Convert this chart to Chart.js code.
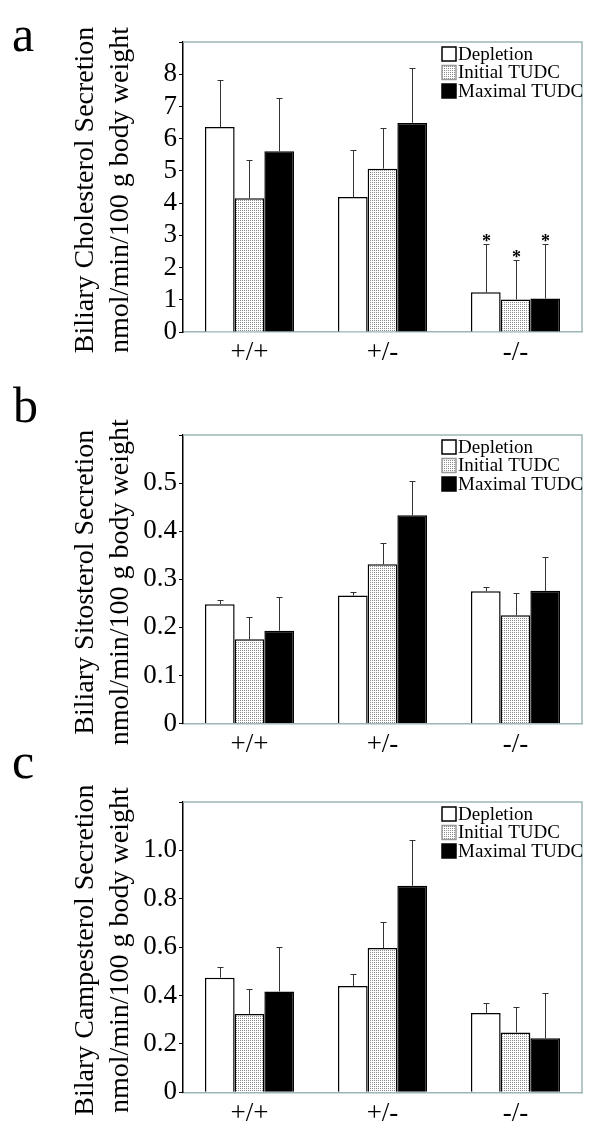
<!DOCTYPE html>
<html>
<head>
<meta charset="utf-8">
<script src="https://cdn.jsdelivr.net/npm/chart.js@4.4.0/dist/chart.umd.min.js"></script>
<style>
  body { margin: 0; background: #fff; }
  canvas { display: block; }
  #wrap { position: relative; width: 600px; height: 1139px; }
  .letter { position: absolute; font-family: 'Liberation Serif', 'DejaVu Serif', serif; font-size: 50px; line-height: 1; color: #000; z-index: 2; }
</style>
</head>
<body>
<div id="wrap">
  <canvas id="panelA" width="600" height="380"></canvas>
  <canvas id="panelB" width="600" height="380"></canvas>
  <canvas id="panelC" width="600" height="379"></canvas>
  <div class="letter" style="left:12px;top:9px">a</div>
  <div class="letter" style="left:13px;top:380px">b</div>
  <div class="letter" style="left:12px;top:736px">c</div>
</div>
<script>
var categories = ['+/+', '+/-', '-/-'];
var seriesNames = ['Depletion', 'Initial TUDC', 'Maximal TUDC'];

// a - cholesterol
var cholDepletion = [6.36, 4.19, 1.23];
var cholInitial   = [4.15, 5.07, 1.01];
var cholMaximal   = [5.61, 6.49, 1.04];
var cholDepletionSD = [1.45, 1.45, 1.49];
var cholInitialSD   = [1.20, 1.25, 1.24];
var cholMaximalSD   = [1.66, 1.69, 1.68];
var cholStars = [false, false, true];
var cholTicks = [0, 1, 2, 3, 4, 5, 6, 7, 8];

// b - sitosterol
var sitoDepletion = [0.248, 0.266, 0.275];
var sitoInitial   = [0.175, 0.331, 0.225];
var sitoMaximal   = [0.193, 0.433, 0.276];
var sitoDepletionSD = [0.009, 0.007, 0.009];
var sitoInitialSD   = [0.046, 0.045, 0.046];
var sitoMaximalSD   = [0.071, 0.071, 0.071];
var sitoTicks = [0, 0.1, 0.2, 0.3, 0.4, 0.5];

// c - campesterol
var campDepletion = [0.474, 0.439, 0.328];
var campInitial   = [0.324, 0.596, 0.247];
var campMaximal   = [0.417, 0.854, 0.223];
var campDepletionSD = [0.046, 0.048, 0.043];
var campInitialSD   = [0.105, 0.107, 0.105];
var campMaximalSD   = [0.183, 0.189, 0.189];
var campTicks = [0, 0.2, 0.4, 0.6, 0.8, 1.0];

Chart.defaults.font.family = "'Liberation Serif', 'DejaVu Serif', serif";
Chart.defaults.color = '#000';

var frameColor = '#9db6b6';

function dotPattern() {
    var c = document.createElement('canvas');
    c.width = 2; c.height = 2;
    var x = c.getContext('2d');
    x.fillStyle = '#fff';
    x.fillRect(0, 0, 2, 2);
    x.fillStyle = '#8a8a8a';
    x.fillRect(0, 0, 1, 1);
    return x.createPattern(c, 'repeat');
}
var stipple = dotPattern();
var fills = ['#ffffff', stipple, '#000000'];

var extras = {
    id: 'extras',
    afterDatasetsDraw: function(chart) {
        var ctx = chart.ctx, area = chart.chartArea, y = chart.scales.y;
        var o = chart.options.plugins.extras;
        ctx.save();
        // error bars (upper half only)
        chart.data.datasets.forEach(function(ds, i) {
            var meta = chart.getDatasetMeta(i);
            meta.data.forEach(function(bar, j) {
                var top = Math.round(y.getPixelForValue(ds.data[j] + ds.sd[j])) + 0.5;
                var bx = Math.round(bar.x) + 0.5;
                ctx.strokeStyle = '#333';
                ctx.lineWidth = 1;
                ctx.beginPath();
                ctx.moveTo(bx, bar.y);
                ctx.lineTo(bx, top);
                ctx.moveTo(bx - 3, top);
                ctx.lineTo(bx + 3, top);
                ctx.stroke();
                if (ds.stars && ds.stars[j]) {
                    ctx.fillStyle = '#000';
                    ctx.font = 'bold 18px ' + Chart.defaults.font.family;
                    ctx.textAlign = 'center';
                    ctx.textBaseline = 'alphabetic';
                    ctx.fillText('*', bx, top + 2);
                }
            });
        });
        // top + right frame
        ctx.strokeStyle = frameColor;
        ctx.lineWidth = 1.5;
        ctx.beginPath();
        ctx.moveTo(area.left, area.top);
        ctx.lineTo(area.right, area.top);
        ctx.lineTo(area.right, area.bottom);
        ctx.stroke();
        // legend
        ctx.font = '19px ' + Chart.defaults.font.family;
        ctx.textAlign = 'left';
        ctx.textBaseline = 'middle';
        var rows = [12, 30.5, 49];
        chart.data.datasets.forEach(function(ds, i) {
            var cy = area.top + rows[i];
            var bx = area.right - 140;
            ctx.fillStyle = ds.backgroundColor;
            ctx.fillRect(bx, cy - 7, 14, 14);
            ctx.strokeStyle = i === 1 ? '#999' : '#000';
            ctx.lineWidth = 1.5;
            ctx.strokeRect(bx, cy - 7, 14, 14);
            ctx.fillStyle = '#000';
            ctx.fillText(ds.label, bx + 16, cy + 1);
        });
        // y title, two lines
        ctx.font = '28px ' + Chart.defaults.font.family;
        ctx.textAlign = 'center';
        ctx.textBaseline = 'alphabetic';
        var cyT = (area.top + area.bottom) / 2 + 3;
        [93, 128].forEach(function(xb, k) {
            ctx.save();
            ctx.translate(xb, cyT);
            ctx.rotate(-Math.PI / 2);
            ctx.fillText(o.title[k], 0, 0);
            ctx.restore();
        });
        ctx.restore();
    }
};

function makePanel(id, series, sds, stars, tickList, yMax, step, top, bottom, title) {
    var cv = document.getElementById(id);
    var H = cv.height;
    var datasets = series.map(function(vals, i) {
        return {
            label: seriesNames[i],
            data: vals,
            sd: sds[i],
            stars: stars,
            backgroundColor: fills[i],
            borderColor: '#000',
            borderWidth: 1.5,
            barPercentage: 1.0,
            categoryPercentage: 0.67
        };
    });
    return new Chart(cv.getContext('2d'), {
        type: 'bar',
        data: { labels: categories, datasets: datasets },
        plugins: [extras],
        options: {
            responsive: false,
            animation: false,
            layout: { padding: { left: 0, top: top, right: 18, bottom: 0 } },
            plugins: {
                legend: { display: false },
                tooltip: { enabled: false },
                extras: { title: title }
            },
            scales: {
                x: {
                    grid: { display: false, drawTicks: false },
                    border: { color: frameColor, width: 1.5 },
                    ticks: { font: { size: 27 }, color: '#000', padding: 5 },
                    afterFit: function(s) { s.height = H - bottom; }
                },
                y: {
                    min: 0,
                    max: yMax,
                    ticks: {
                        stepSize: step,
                        autoSkip: false,
                        font: { size: 27 },
                        color: '#000',
                        padding: 2,
                        callback: function(v) {
                            var r = Math.round(v * 1000) / 1000;
                            if (tickList.indexOf(r) < 0) return '';
                            if (r === 0) return '0';
                            return step < 1 ? r.toFixed(1) : String(r);
                        }
                    },
                    grid: { drawOnChartArea: false, drawTicks: true, tickLength: 4, color: '#000' },
                    border: { color: '#000', width: 1.5 },
                    afterFit: function(s) { s.width = 183; }
                }
            }
        }
    });
}

makePanel('panelA',
    [cholDepletion, cholInitial, cholMaximal],
    [cholDepletionSD, cholInitialSD, cholMaximalSD],
    cholStars, cholTicks, 9, 1, 42, 332,
    ['Biliary Cholesterol Secretion', 'nmol/min/100 g body weight']);

makePanel('panelB',
    [sitoDepletion, sitoInitial, sitoMaximal],
    [sitoDepletionSD, sitoInitialSD, sitoMaximalSD],
    null, sitoTicks, 0.6, 0.1, 55, 343.5,
    ['Biliary Sitosterol Secretion', 'nmol/min/100 g body weight']);

makePanel('panelC',
    [campDepletion, campInitial, campMaximal],
    [campDepletionSD, campInitialSD, campMaximalSD],
    null, campTicks, 1.2, 0.2, 42, 332.3,
    ['Bilary Campesterol Secretion', 'nmol/min/100 g body weight']);
</script>
</body>
</html>
